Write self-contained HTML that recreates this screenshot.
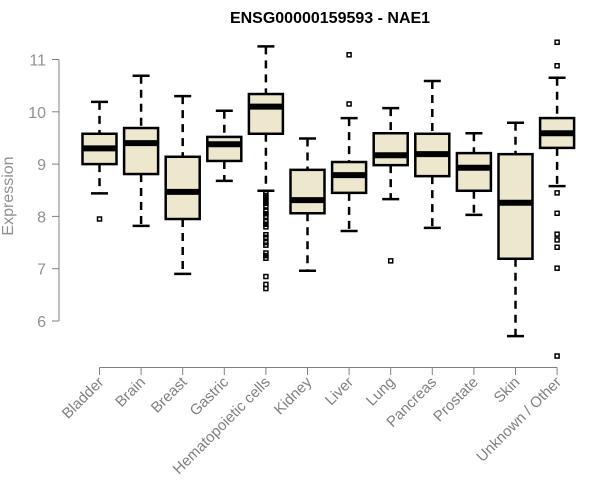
<!DOCTYPE html>
<html><head><meta charset="utf-8"><style>
body{margin:0;background:#fff;}
svg{display:block;font-family:"Liberation Sans",Arial,sans-serif;}
</style></head><body>
<svg id="chart" width="600" height="500">
<text x="330" y="23" text-anchor="middle" font-weight="bold" font-size="16" fill="#000">ENSG00000159593 - NAE1</text>
<text transform="translate(13,196) rotate(-90)" text-anchor="middle" font-size="16" fill="#909090">Expression</text>
<g id="yaxis"></g>
<g id="xaxis"></g>
<g id="boxes"></g>
</svg>
<script>
const categories=["Bladder","Brain","Breast","Gastric","Hematopoietic cells","Kidney","Liver","Lung","Pancreas","Prostate","Skin","Unknown / Other"];
const lowerWhisker=[8.44,7.82,6.90,8.68,8.49,6.96,7.72,8.33,7.78,8.03,5.71,8.58];
const q1=[9.00,8.81,7.95,9.06,9.58,8.06,8.45,8.98,8.77,8.49,7.19,9.31];
const medians=[9.30,9.40,8.47,9.38,10.10,8.31,8.79,9.17,9.19,8.93,8.26,9.59];
const q3=[9.58,9.69,9.14,9.52,10.34,8.89,9.04,9.59,9.58,9.21,9.19,9.88];
const upperWhisker=[10.19,10.69,10.30,10.02,11.25,9.49,9.88,10.07,10.59,9.59,9.79,10.65];
const outliers=[[7.95],[],[],[],[8.45,8.4,8.35,8.3,8.25,8.2,8.1,8.05,8.0,7.9,7.85,7.8,7.65,7.6,7.5,7.45,7.3,7.25,7.2,6.85,6.7,6.62],[],[10.15,11.09],[7.15],[],[],[],[11.33,10.88,8.45,8.06,7.66,7.55,7.41,7.01,5.33]];
const yTicks=[6,7,8,9,10,11];
const NS="http://www.w3.org/2000/svg";
function y(v){return 321-(v-6)*52.3;}
function x(i){return 99.5+i*41.6;}
function mk(tag,attrs,parent){const e=document.createElementNS(NS,tag);for(const k in attrs)e.setAttribute(k,attrs[k]);parent.appendChild(e);return e;}
const ya=document.getElementById('yaxis'),xa=document.getElementById('xaxis'),bx=document.getElementById('boxes');
let l=mk('line',{x1:59,x2:59,y1:y(6),y2:y(11),stroke:'#808080'},ya);


yTicks.forEach(t=>{
 let tk=mk('line',{x1:52,x2:59,y1:y(t),y2:y(t),stroke:'#808080'},ya);
 
 
 let tx=mk('text',{x:46,y:y(t)+6,'text-anchor':'end','font-size':16,fill:'#909090'},ya);
 tx.textContent=t;
 
 
});
let xl=mk('line',{x1:x(0),x2:x(categories.length-1),y1:367.5,y2:367.5,stroke:'#808080'},xa);


categories.forEach((c,i)=>{
 let tk=mk('line',{x1:x(i),x2:x(i),y1:367.5,y2:375,stroke:'#808080'},xa);
 
 
 let tx=mk('text',{transform:`translate(${x(i)+5},${383}) rotate(-45)`,'text-anchor':'end','font-size':15,fill:'#808080'},xa);
 tx.textContent=c;
 
 
 const cx=x(i),hw=17;
 const g=mk('g',{},bx);
 
 
 mk('line',{x1:cx,x2:cx,y1:y(upperWhisker[i]),y2:y(q3[i]),stroke:'#000','stroke-width':2.5,'stroke-dasharray':'8,6'},g);
 mk('line',{x1:cx,x2:cx,y1:y(q1[i]),y2:y(lowerWhisker[i]),stroke:'#000','stroke-width':2.5,'stroke-dasharray':'8,6'},g);
 mk('line',{x1:cx-8.5,x2:cx+8.5,y1:y(upperWhisker[i]),y2:y(upperWhisker[i]),stroke:'#000','stroke-width':2.5},g);
 mk('line',{x1:cx-8.5,x2:cx+8.5,y1:y(lowerWhisker[i]),y2:y(lowerWhisker[i]),stroke:'#000','stroke-width':2.5},g);
 mk('rect',{x:cx-hw,y:y(q3[i]),width:2*hw,height:y(q1[i])-y(q3[i]),fill:'#ede7cd',stroke:'#000','stroke-width':2.5},g);
 mk('line',{x1:cx-hw,x2:cx+hw,y1:y(medians[i]),y2:y(medians[i]),stroke:'#000','stroke-width':6},g);
 outliers[i].forEach(o=>{
  let p=mk('rect',{x:cx-2,y:y(o)-2,width:4,height:4,fill:'none',stroke:'#000','stroke-width':1.5},g);
  
  
 });
});
</script>
</body></html>
